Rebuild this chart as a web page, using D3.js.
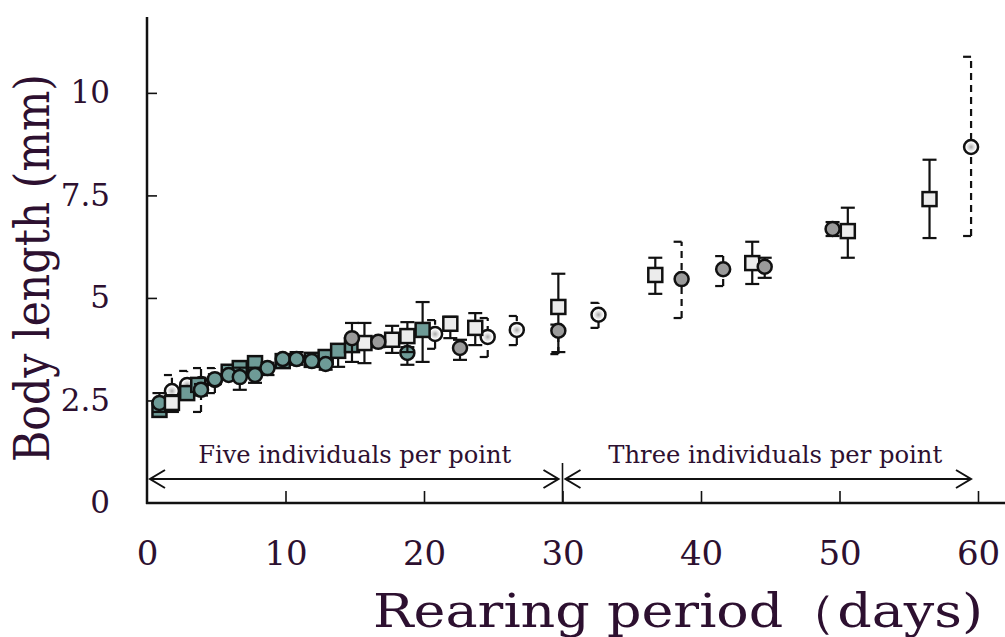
<!DOCTYPE html>
<html>
<head>
<meta charset="utf-8">
<script src="https://cdn.jsdelivr.net/npm/d3@7"></script>
<style>
  body { margin: 0; background: #fff; }
  svg { display: block; }
</style>
</head>
<body>
<svg id="chart" width="1005" height="637"></svg>
<script>
// values (day, mean body length, error bar low / high, mm)
const tealCircleDay  = [0.9, 3.9, 4.9, 5.9, 6.7, 7.8, 8.7, 9.8, 10.8, 11.9, 12.9, 18.8]
const tealCircleMean = [2.44, 2.76, 3.02, 3.12, 3.07, 3.12, 3.29, 3.51, 3.51, 3.46, 3.39, 3.66]
const tealCircleLow  = [2.22, 2.62, 2.9, 3.0, 2.76, 2.93, 3.12, 3.42, 3.37, 3.36, 3.25, 3.37]
const tealCircleHigh = [2.68, 2.9, 3.14, 3.22, 3.3, 3.3, 3.42, 3.6, 3.68, 3.56, 3.5, 3.8]

const tealSquareDay  = [0.9, 2.9, 3.7, 5.9, 6.7, 7.8, 9.8, 11.9, 12.9, 13.8, 14.8, 19.9]
const tealSquareMean = [2.27, 2.68, 2.88, 3.2, 3.29, 3.41, 3.46, 3.49, 3.56, 3.71, 3.85, 4.22]
const tealSquareLow  = [2.15, 2.55, 2.78, 3.1, 3.2, 3.32, 3.38, 3.4, 3.42, 3.32, 3.7, 3.44]
const tealSquareHigh = [2.4, 2.8, 2.98, 3.3, 3.38, 3.5, 3.55, 3.58, 3.7, 3.85, 4.0, 4.9]

const openSquareDay  = [1.8, 15.7, 17.7, 18.8, 21.9, 23.7, 29.7, 36.7, 43.7, 50.6, 56.5]
const openSquareMean = [2.44, 3.9, 3.98, 4.07, 4.37, 4.27, 4.78, 5.56, 5.85, 6.63, 7.41]
const openSquareLow  = [2.22, 3.41, 3.66, 3.68, 4.02, 3.85, 3.68, 5.1, 5.34, 5.98, 6.46]
const openSquareHigh = [2.63, 4.39, 4.32, 4.41, 4.54, 4.63, 5.59, 5.98, 6.37, 7.2, 8.37]

const openCircleDay  = [1.8, 2.9, 3.9, 4.9, 20.8, 24.6, 26.7, 32.6, 59.5]
const openCircleMean = [2.73, 2.88, 2.9, 3.0, 4.12, 4.05, 4.22, 4.59, 8.68]
const openCircleLow  = [2.3, 2.6, 2.22, 2.68, 3.76, 3.56, 3.85, 4.27, 6.51]
const openCircleHigh = [3.12, 3.22, 3.29, 3.29, 4.46, 4.51, 4.56, 4.88, 10.88]

const grayCircleDay  = [14.8, 16.7, 22.6, 44.6, 49.5]
const grayCircleMean = [4.02, 3.93, 3.78, 5.76, 6.68]
const grayCircleLow  = [3.44, 3.8, 3.49, 5.49, 6.51]
const grayCircleHigh = [4.39, 4.05, 3.98, 5.98, 6.85]

const grayDashDay  = [29.7, 38.6, 41.6]
const grayDashMean = [4.2, 5.46, 5.7]
const grayDashLow  = [3.63, 4.51, 5.29]
const grayDashHigh = [4.35, 6.37, 6.02]

const xTicks = [0, 10, 20, 30, 40, 50, 60]
const yTicks = [0, 2.5, 5, 7.5, 10]
const groupLabels = ['Five individuals per point', 'Three individuals per point']
const groupRanges = [[0, 30], [30, 60]]

const ink = '#2d1030'
const teal = '#6e9b97'

const svg = d3.select('#chart')
const defs = svg.append('defs')
const grad = defs.append('radialGradient').attr('id', 'hollow')
grad.append('stop').attr('offset', '0%').attr('stop-color', '#a6a6a6')
grad.append('stop').attr('offset', '35%').attr('stop-color', '#d6d6d6')
grad.append('stop').attr('offset', '75%').attr('stop-color', '#ffffff')

const xScale = d3.scaleLinear().domain([0, 60]).range([147, 978])
const yScale = d3.scaleLinear().domain([0, 11.85]).range([503, 17])

function rows(day, mean, low, high) {
  return day.map((d, i) => ({ day: d, mean: mean[i], low: low[i], high: high[i] }))
}

const series = [
  { data: rows(openCircleDay, openCircleMean, openCircleLow, openCircleHigh), shape: 'circle', fill: 'url(#hollow)', dashed: true },
  { data: rows(tealSquareDay, tealSquareMean, tealSquareLow, tealSquareHigh), shape: 'square', fill: teal, dashed: false },
  { data: rows(tealCircleDay, tealCircleMean, tealCircleLow, tealCircleHigh), shape: 'circle', fill: teal, dashed: false },
  { data: rows(openSquareDay, openSquareMean, openSquareLow, openSquareHigh), shape: 'square', fill: '#ececec', dashed: false },
  { data: rows(grayCircleDay, grayCircleMean, grayCircleLow, grayCircleHigh), shape: 'circle', fill: '#9b9b9b', dashed: false },
  { data: rows(grayDashDay, grayDashMean, grayDashLow, grayDashHigh), shape: 'circle', fill: '#9b9b9b', dashed: true }
]

// axes
const yAxis = d3.axisLeft(yScale).tickValues(yTicks).tickFormat(d => String(d)).tickSize(-10).tickPadding(37)
const xAxis = d3.axisBottom(xScale).tickValues(xTicks).tickFormat(d => String(d)).tickSize(-12).tickPadding(38)

const gy = svg.append('g').attr('transform', 'translate(147,0)').call(yAxis)
const gx = svg.append('g').attr('transform', 'translate(0,503)').call(xAxis)
;[gx, gy].forEach(g => {
  g.select('.domain').remove()
  g.selectAll('.tick line').attr('stroke', '#111').attr('stroke-width', 1.6)
  g.selectAll('.tick text')
    .attr('fill', ink)
    .style('font-family', '"DejaVu Serif", serif')
})
gy.selectAll('.tick text').style('font-size', '31px')
gx.selectAll('.tick text').style('font-size', '34px')
gx.selectAll('.tick').filter(d => d === 0).select('line').remove()
gy.selectAll('.tick').filter(d => d === 0).select('line').remove()

svg.append('line').attr('x1', 147).attr('x2', 147).attr('y1', 17).attr('y2', 504)
  .attr('stroke', '#111').attr('stroke-width', 2.5)
svg.append('line').attr('x1', 146).attr('x2', 1005).attr('y1', 503).attr('y2', 503)
  .attr('stroke', '#111').attr('stroke-width', 2.5)

// group separator and arrows
svg.append('line').attr('x1', xScale(30)).attr('x2', xScale(30)).attr('y1', 463).attr('y2', 503)
  .attr('stroke', '#111').attr('stroke-width', 1.6)

const arrowY = 479
const labelWidths = [313, 334]
groupRanges.forEach((r, i) => {
  const a = xScale(r[0]) + 3, b = xScale(r[1]) - (i === 0 ? 4 : 7)
  const g = svg.append('g').attr('stroke', '#111').attr('stroke-width', 2).attr('fill', 'none')
  g.append('line').attr('x1', a).attr('x2', b).attr('y1', arrowY).attr('y2', arrowY)
  g.append('path').attr('d', `M${a + 15},${arrowY - 9}L${a},${arrowY}L${a + 15},${arrowY + 9}`)
  g.append('path').attr('d', `M${b - 15},${arrowY - 9}L${b},${arrowY}L${b - 15},${arrowY + 9}`)
  svg.append('text')
    .attr('x', (xScale(r[0]) + xScale(r[1])) / 2 + (i === 0 ? 0 : 5))
    .attr('y', 463)
    .attr('text-anchor', 'middle')
    .attr('fill', ink)
    .attr('textLength', labelWidths[i])
    .attr('lengthAdjust', 'spacingAndGlyphs')
    .style('font-family', '"DejaVu Serif", serif')
    .style('font-size', '24px')
    .text(groupLabels[i])
})

// error bars + markers
series.forEach(s => {
  const g = svg.append('g')
  const bars = g.selectAll('g.bar').data(s.data).join('g').attr('class', 'bar')
    .attr('stroke', '#111').attr('stroke-width', 2.2)
  bars.append('line')
    .attr('x1', d => xScale(d.day)).attr('x2', d => xScale(d.day))
    .attr('y1', d => yScale(d.low)).attr('y2', d => yScale(d.high))
    .attr('stroke-dasharray', s.dashed ? '7,5' : null)
  const capL = s.dashed ? 8 : 7, capR = s.dashed ? 0 : 7
  ;['low', 'high'].forEach(k => {
    bars.append('line')
      .attr('x1', d => xScale(d.day) - capL).attr('x2', d => xScale(d.day) + capR)
      .attr('y1', d => yScale(d[k])).attr('y2', d => yScale(d[k]))
  })
  if (s.shape === 'circle') {
    g.selectAll('circle').data(s.data).join('circle')
      .attr('cx', d => xScale(d.day)).attr('cy', d => yScale(d.mean)).attr('r', 7)
      .attr('fill', s.fill).attr('stroke', '#111').attr('stroke-width', 2.5)
  } else {
    g.selectAll('rect').data(s.data).join('rect')
      .attr('x', d => xScale(d.day) - 7).attr('y', d => yScale(d.mean) - 7)
      .attr('width', 14).attr('height', 14)
      .attr('fill', s.fill).attr('stroke', '#111').attr('stroke-width', 2.5)
  }
})

// axis titles
svg.append('text')
  .attr('x', 678).attr('y', 627)
  .attr('text-anchor', 'middle')
  .attr('fill', ink)
  .attr('textLength', 610)
  .attr('lengthAdjust', 'spacingAndGlyphs')
  .style('font-family', '"DejaVu Serif", serif')
  .style('font-size', '46px')
  .text('Rearing period（days)')

svg.append('text')
  .attr('transform', 'translate(49,268) rotate(-90)')
  .attr('text-anchor', 'middle')
  .attr('fill', ink)
  .attr('textLength', 388)
  .attr('lengthAdjust', 'spacingAndGlyphs')
  .style('font-family', '"DejaVu Serif", serif')
  .style('font-size', '48px')
  .text('Body length (mm)')
</script>
</body>
</html>
